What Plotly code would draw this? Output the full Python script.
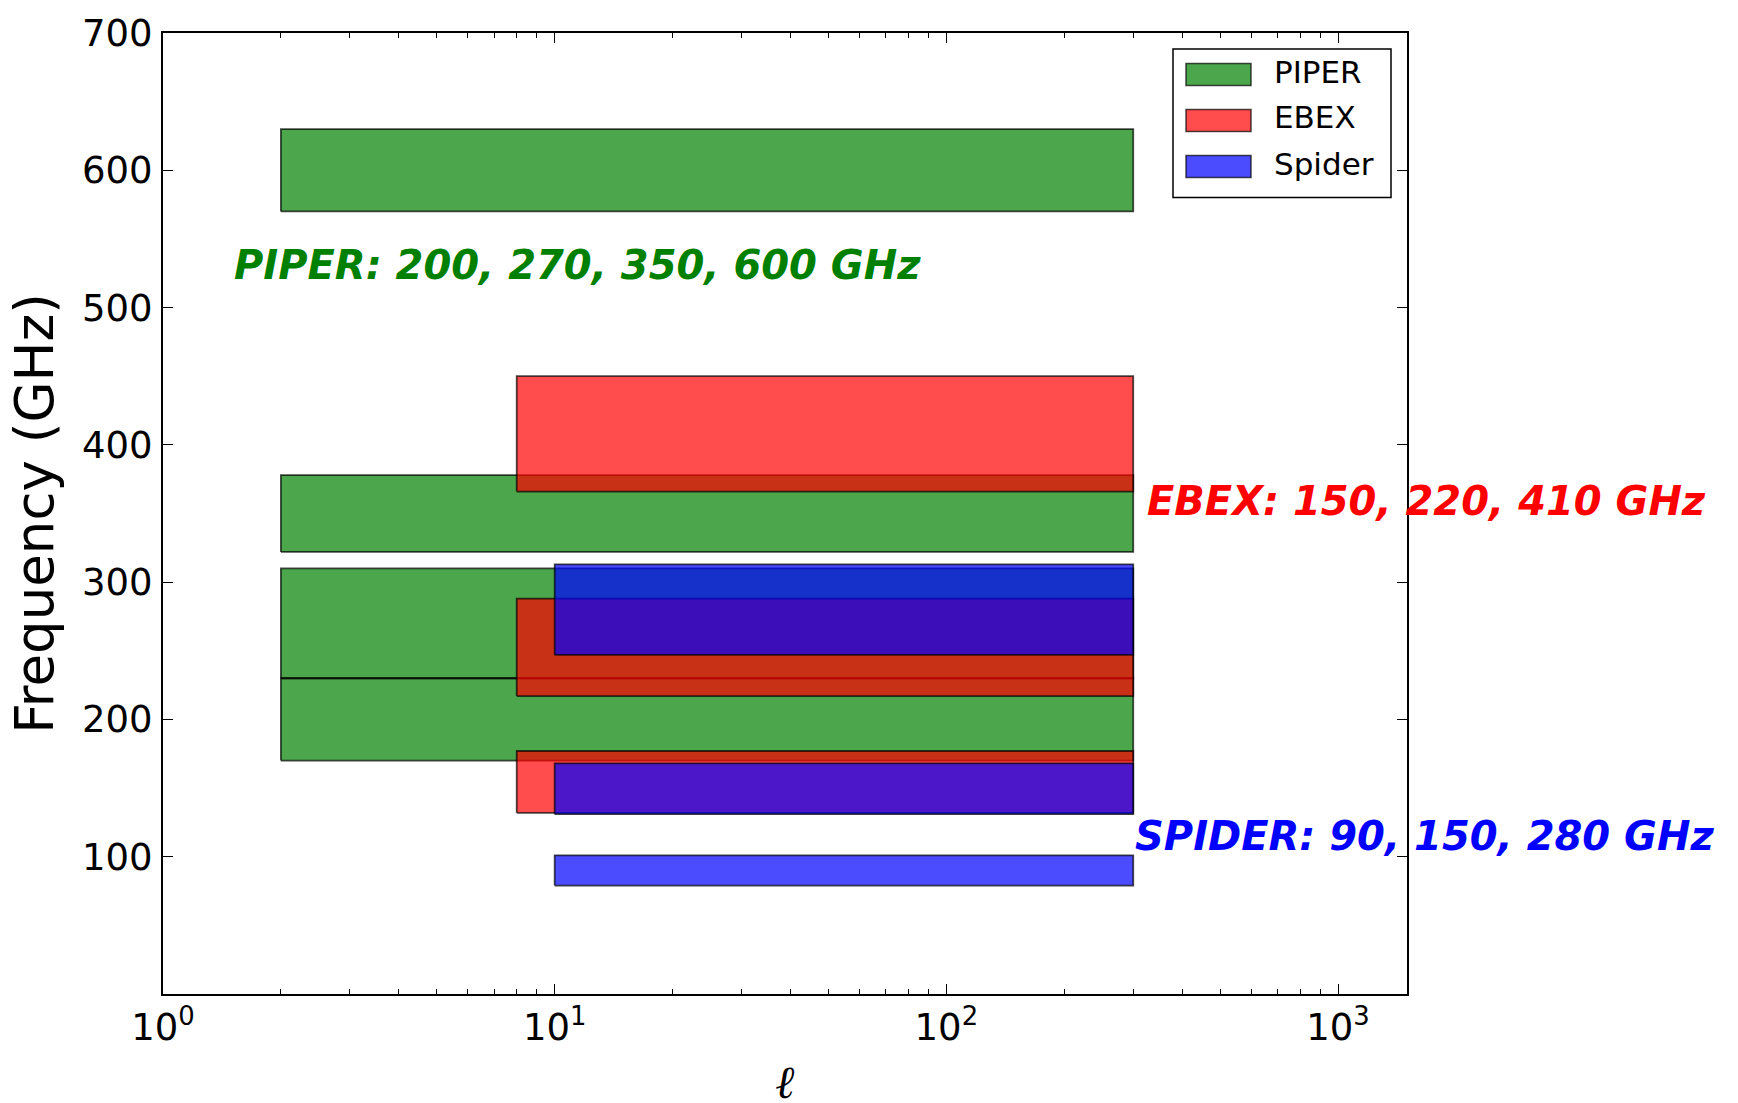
import math
import plotly.graph_objects as go

# ---- data ----
experiments = ["PIPER", "EBEX", "Spider"]
fill_colors = ["rgba(0,128,0,0.7)", "rgba(255,0,0,0.7)", "rgba(0,0,255,0.7)"]

piper_low = [570, 322, 230, 170]
piper_high = [630, 378, 310, 230]
ebex_low = [366, 217, 132]
ebex_high = [450, 288, 177]
spider_low = [247, 131, 79]
spider_high = [313, 168, 101]

ell_min = [2, 8, 10]      # PIPER, EBEX, Spider
ell_max = [300, 300, 300]

y_ticks = [100, 200, 300, 400, 500, 600, 700]
x_ticks = [1, 10, 100, 1000]
x_ticktext = ["10<sup>0</sup>", "10<sup>1</sup>", "10<sup>2</sup>", "10<sup>3</sup>"]
x_minor = [m * 10 ** d for d in range(4) for m in range(2, 10)]

bands = [(piper_low, piper_high), (ebex_low, ebex_high), (spider_low, spider_high)]

W, H = 1738, 1103
L, R, T, B = 163, 331, 30, 109
PW, PH = W - L - R, H - T - B


def px(x):
    return (x - L) / PW


def py(y):
    return (H - B - y) / PH


EDGE = "rgba(0,0,0,0.7)"

fig = go.Figure()
for name, col, (lo, hi), x0, x1 in zip(experiments, fill_colors, bands, ell_min, ell_max):
    xs, ys = [], []
    for a, b in zip(lo, hi):
        xs += [x0, x1, x1, x0, x0, None]
        ys += [a, a, b, b, a, None]
    fig.add_trace(go.Scatter(
        x=xs, y=ys, mode="lines", fill="toself", fillcolor=col,
        line=dict(color=EDGE, width=1.8),
        name=name, legendgroup=name, hoverinfo="skip", showlegend=False,
    ))

font_main = "DejaVu Sans"
fig.update_xaxes(
    type="log", range=[0, math.log10(1500)],
    tickmode="array", tickvals=x_ticks, ticktext=x_ticktext,
    ticks="inside", ticklen=10, tickwidth=1.3, tickcolor="black",
    showline=True, linecolor="black", linewidth=2, mirror="allticks",
    showgrid=False, zeroline=False,
    minor=dict(tickmode="array", tickvals=x_minor, ticks="inside", ticklen=5,
               tickwidth=1, tickcolor="black", showgrid=False),
    tickfont=dict(family=font_main, size=37, color="black"),
    ticklabelstandoff=0,
)
fig.update_yaxes(
    range=[0, 700], tickmode="array", tickvals=y_ticks,
    ticks="inside", ticklen=10, tickwidth=1.3, tickcolor="black",
    showline=True, linecolor="black", linewidth=2, mirror="allticks",
    showgrid=False, zeroline=False,
    tickfont=dict(family=font_main, size=37, color="black"),
    ticklabelstandoff=1,
    title=dict(text="Frequency (GHz)", font=dict(family=font_main, size=53, color="black"), standoff=11),
)

ann_font = dict(family="DejaVu Sans", size=40, weight="bold", style="italic")
fig.add_annotation(x=math.log10(1.5), y=531, xref="x", yref="y", text="PIPER: 200, 270, 350, 600 GHz",
                   showarrow=False, xanchor="left", yanchor="middle", font=dict(color="#008000", **ann_font))
fig.add_annotation(x=math.log10(321), y=359, xref="x", yref="y", text="EBEX: 150, 220, 410 GHz",
                   showarrow=False, xanchor="left", yanchor="middle", font=dict(color="#FF0000", **ann_font))
fig.add_annotation(x=math.log10(299), y=115, xref="x", yref="y", text="SPIDER: 90, 150, 280 GHz",
                   showarrow=False, xanchor="left", yanchor="middle", font=dict(color="#0000FF", **ann_font))

# x-axis label (script ell)
fig.add_annotation(x=0.5, y=py(1082), xref="paper", yref="paper", text="ℓ",
                   showarrow=False, xanchor="center", yanchor="middle",
                   font=dict(family="DejaVu Serif", size=46, style="italic", color="black"))
# page number (cut off at bottom edge)
fig.add_annotation(x=px(1600), y=py(1093), xref="paper", yref="paper",
                   text="<b>17</b>", showarrow=False, xanchor="center", yanchor="top",
                   font=dict(family="Liberation Sans", size=34, color="black"))

# ---- legend box (matplotlib-style wide patches) ----
fig.add_shape(type="rect", xref="paper", yref="paper", x0=px(1173), x1=px(1391), y0=py(195), y1=py(46),
              fillcolor="white", line=dict(color="black", width=1.5), layer="above")
row_y = [71.7, 117.7, 164.0]
for name, col, ry in zip(experiments, fill_colors, row_y):
    fig.add_shape(type="rect", xref="paper", yref="paper", x0=px(1186), x1=px(1251),
                  y0=py(ry + 11), y1=py(ry - 11), fillcolor=col, line=dict(color=EDGE, width=1.5),
                  layer="above")
    fig.add_annotation(x=px(1272), y=py(ry - 3), xref="paper", yref="paper", text=name, showarrow=False,
                       xanchor="left", yanchor="middle",
                       font=dict(family=font_main, size=31, color="black"))

fig.update_layout(
    width=W, height=H,
    margin=dict(l=L, r=R, t=T, b=B, pad=0),
    paper_bgcolor="white", plot_bgcolor="white",
    showlegend=False,
)

fig.write_html("out.html")
